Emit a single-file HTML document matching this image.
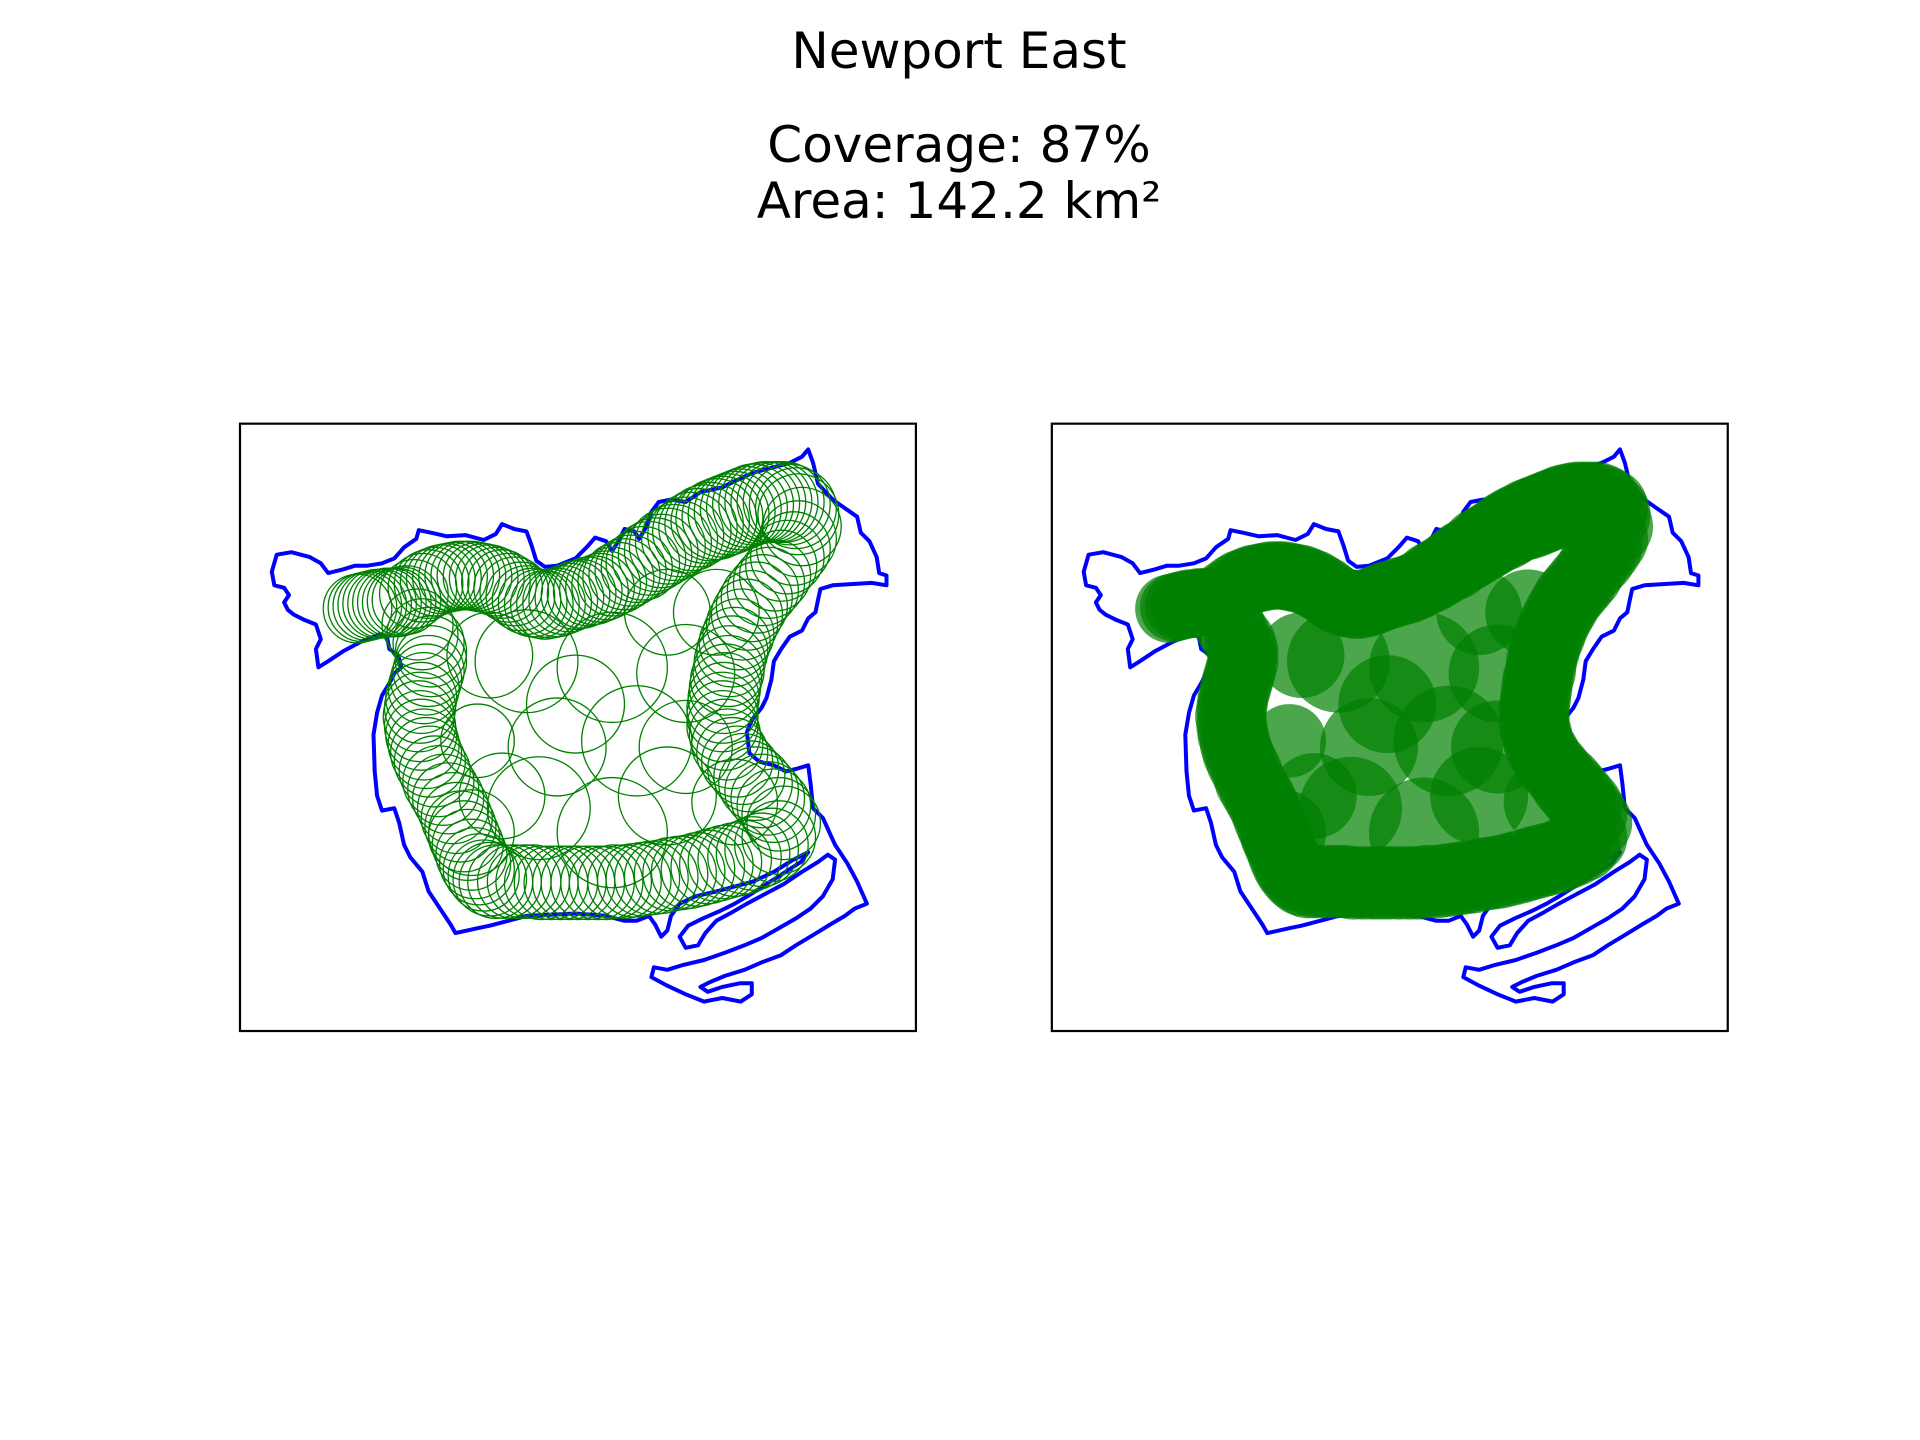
<!DOCTYPE html>
<html><head><meta charset="utf-8"><style>
html,body{margin:0;padding:0;background:#fff}
svg{display:block}
text{font-family:"DejaVu Sans","Liberation Sans",sans-serif;fill:#000}
</style></head><body>
<svg id="fig" width="1920" height="1440" viewBox="0 0 1920 1440" xmlns="http://www.w3.org/2000/svg">
<rect width="1920" height="1440" fill="#fff"/>
<text x="959" y="68" font-size="50" text-anchor="middle">Newport East</text>
<text x="959" y="162" font-size="50" text-anchor="middle">Coverage: 87%</text>
<text x="959" y="218" font-size="50" text-anchor="middle">Area: 142.2 km²</text>
<g id="left"></g>
<g id="right"></g>
</svg>
<script>
const ringX=[292,296,300,304,308,312,316,320,324,328,332,338,345,350,355,360,365,370,375,380,385,390,395,400,405,410,415,420,425,430,435,440,445,450,455,460,465,470,475,480,485,490,495,500,505,510,515,520,525,530,535,540,545,550,555,560,565,570,575,580,585,590,595,600,605,610,615,620,625,630,635,640,645,650,652,655,652,648,643,638,633,628,623,618,614,610,606,603,600,598,596,595,593,592,591,590,590,590,592,594,598,602,607,612,617,622,627,632,636,640,636,630,622,615,608,600,592,585,578,570,562,555,548,540,532,525,518,510,502,495,488,480,472,465,458,450,442,435,428,420,412,405,400,395,391,388,385,382,379,376,373,370,366,362,358,355,351,348,346,344,343,342,343,344,346,348,350,352,352,350,345,341,338];
const ringY=[497,496,495,494,493,493,492,492,492,491,490,485,480,477,475,473,472,471,470,470,470,471,472,473,475,477,480,483,487,490,492,493,494,493,492,490,488,486,485,483,482,480,478,475,472,469,466,463,460,456,453,450,446,443,440,437,434,431,428,426,424,422,420,418,416,414,412,411,410,410,410,410,412,415,420,430,440,448,455,462,470,476,482,488,495,502,510,518,525,532,540,548,555,562,570,578,585,593,600,608,615,622,628,634,640,646,652,658,665,672,684,690,694,697,700,702,704,706,708,710,712,713,714,716,717,718,719,720,720,721,721,721,721,721,721,721,721,720,720,720,720,720,718,715,710,705,698,690,683,675,668,660,652,645,638,630,622,615,608,600,593,585,578,570,562,555,548,540,532,525,518,510,504,500];
const ringR=[28,28,28,28,28,28,28,28,28,28,28,28,28,28,28,28,28,28,28,28,28,28,28,28,28,28,28,28,28,28,28,28,28,28,28,28,28,28,28,28,28,28,28,28,29,29,29,29,30,30,30,30,31,31,31,31,32,32,32,32,33,33,33,33,33,33,33,33,33,33,33,33,33,33,33,32,31,30,30,29,29,29,29,29,29,29,29,29,29,29,29,29,29,29,29,29,29,29,29,29,29,29,29,29,30,30,30,30,30,30,30,30,30,30,30,30,30,30,30,30,30,30,30,30,30,30,30,30,30,30,30,30,30,30,30,30,30,30,30,30,30,30,30,29,29,29,29,29,29,29,29,29,29,29,29,29,29,29,29,29,29,29,29,29,29,29,29,29,29,29,29,29];
const innerX=[390,430,500,560,455,520,440,500,545,410,470,400,585,385,600,560,545];
const innerY=[605,540,545,550,610,605,660,680,650,650,575,535,500,680,655,610,500];
const innerR=[30,42,45,40,40,45,42,45,40,35,40,35,35,35,35,38,35];
const outline=[[222,467],[226,453],[238,451],[253,455],[262,460],[268,468],[280,465],[290,462],[300,462],[312,460],[322,456],[330,447],[340,440],[342,433],[352,435],[365,438],[380,437],[395,441],[405,436],[410,428],[420,432],[430,434],[434,445],[438,458],[445,463],[455,462],[470,456],[480,446],[486,439],[495,442],[500,450],[506,440],[510,432],[518,434],[522,440],[528,430],[532,418],[538,410],[548,408],[560,410],[572,402],[590,398],[600,393],[615,386],[630,382],[645,378],[655,373],[660,367],[664,378],[668,395],[680,408],[690,415],[700,422],[703,435],[710,442],[716,455],[718,468],[724,470],[724,478],[712,476],[695,477],[680,478],[670,481],[668,490],[666,500],[660,505],[655,515],[645,520],[638,530],[632,540],[630,555],[626,570],[622,578],[614,588],[610,598],[612,615],[620,622],[632,625],[642,630],[650,628],[660,625],[662,640],[664,660],[672,668],[682,690],[692,705],[700,720],[708,738],[698,742],[690,748],[678,755],[665,763],[650,772],[638,780],[622,786],[608,792],[592,797],[580,802],[572,806],[578,810],[590,806],[604,803],[614,803],[614,812],[605,818],[590,815],[575,818],[560,812],[545,805],[532,798],[534,790],[545,792],[558,788],[575,784],[592,778],[608,772],[622,766],[636,758],[650,750],[662,742],[672,732],[680,718],[682,702],[676,698],[668,704],[655,712],[640,722],[625,730],[610,738],[598,745],[585,752],[576,762],[570,772],[560,774],[555,765],[562,756],[574,750],[588,744],[600,738],[612,731],[626,722],[640,713],[654,704],[660,696],[648,702],[632,712],[615,720],[600,724],[585,728],[568,732],[555,738],[548,748],[545,760],[540,765],[535,755],[530,748],[520,752],[510,752],[495,748],[470,746],[450,747],[430,748],[415,752],[400,756],[390,758],[372,762],[368,755],[358,740],[350,728],[345,712],[335,700],[330,690],[326,672],[322,660],[312,662],[308,650],[306,630],[305,600],[308,582],[312,568],[318,558],[322,550],[328,545],[325,535],[318,530],[316,520],[310,518],[295,524],[280,532],[268,540],[260,545],[258,530],[262,522],[258,510],[248,506],[240,502],[235,498],[232,492],[236,486],[232,480],[224,478]];
const panelOffset=[0,663];

const K=1920/1568;
function sx(v,p){return (v+panelOffset[p])*K;}
function sy(v){return v*K;}
const NS='http://www.w3.org/2000/svg';
function mk(tag,parent){const e=document.createElementNS(NS,tag);parent.appendChild(e);return e;}

['left','right'].forEach((id,p)=>{
  const g=document.getElementById(id);
  const fr=mk('rect',g);
  
  
  fr.setAttribute('x',sx(196,p));fr.setAttribute('y',sy(346));
  fr.setAttribute('width',552*K);fr.setAttribute('height',496*K);
  fr.setAttribute('fill','none');fr.setAttribute('stroke','#000');fr.setAttribute('stroke-width','2.2');
  const pl=mk('polygon',g);
  
  
  pl.setAttribute('points',outline.map(q=>sx(q[0],p).toFixed(1)+','+sy(q[1]).toFixed(1)).join(' '));
  pl.setAttribute('fill','none');pl.setAttribute('stroke','#0000ff');pl.setAttribute('stroke-width','4');pl.setAttribute('stroke-linejoin','round');
  const all=[];
  innerX.forEach((x,i)=>all.push([x,innerY[i],innerR[i]]));
  ringX.forEach((x,i)=>all.push([x,ringY[i],ringR[i]]));
  all.forEach(c=>{
    const ci=mk('circle',g);
    
    
    ci.setAttribute('cx',sx(c[0],p));ci.setAttribute('cy',sy(c[1]));ci.setAttribute('r',c[2]*K);
    if(p===0){ci.setAttribute('fill','none');ci.setAttribute('stroke','#008000');ci.setAttribute('stroke-width','1.3');}
    else{ci.setAttribute('fill','#008000');ci.setAttribute('fill-opacity','0.7');}
  });
});
</script>
</body></html>
